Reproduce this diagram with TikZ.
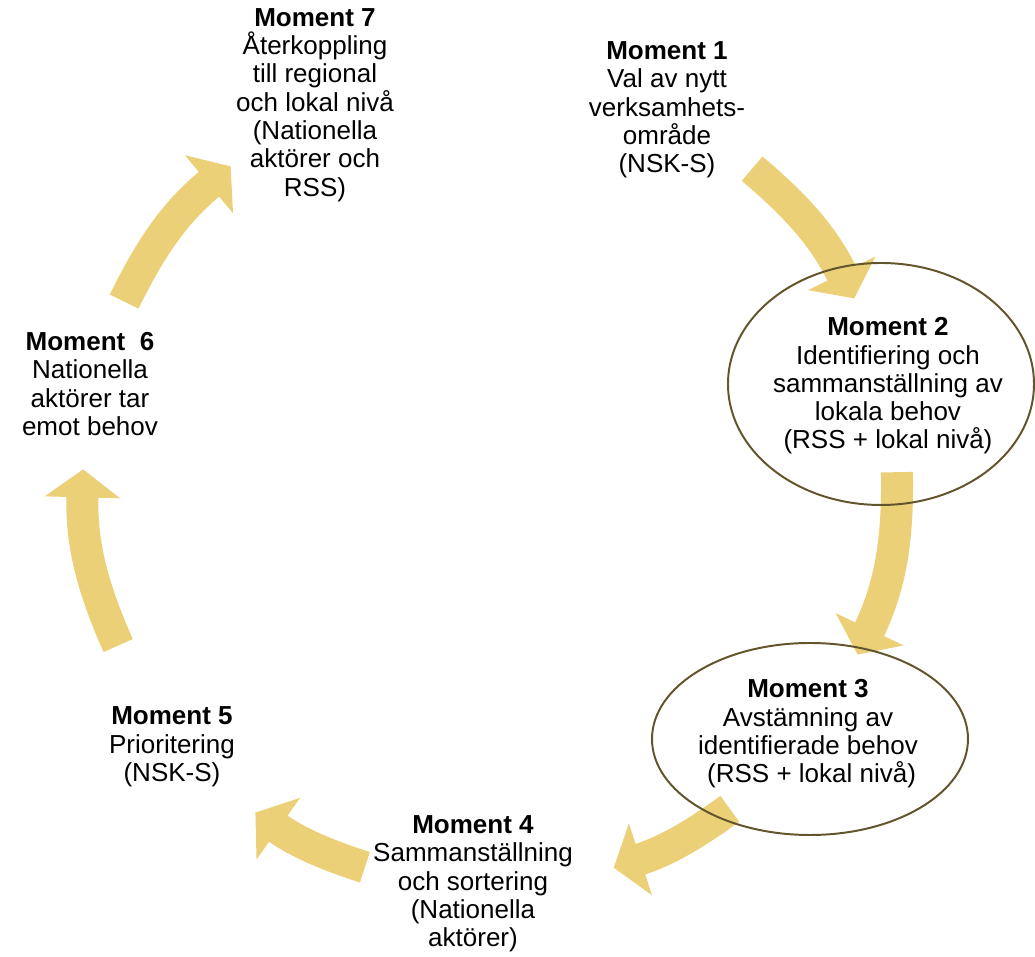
\documentclass[tikz,border=0pt]{standalone}
\usepackage{fontspec}
\setmainfont{Liberation Sans}
\usepackage{tikz}
\usetikzlibrary{arrows.meta}

\definecolor{flowgold}{RGB}{235,208,120}
\definecolor{ringbrown}{RGB}{98,84,45}

\tikzset{
	moment/.style={align=center, inner sep=0pt, font=\fontsize{18.5}{20.1}\selectfont},
	flow/.style={line width=0.8cm, color=flowgold, -{Triangle[length=0.7cm,width=1.85cm]}},
	ring/.style={draw=ringbrown, line width=1.4pt}
}

\begin{document}
\begin{tikzpicture}[x=0.025cm,y=0.025cm]

	\useasboundingbox (-490,-477) rectangle (545,480);

	% curved arrows round the cycle

	\foreach \i/\a/\b in {1/49.9/26.5, 2/1.1/-25.4, 3/-53.9/-72.3, 4/-107.9/-125.2, 5/-156/-181.5, 6/154/129.6}{
		\coordinate (s\i) at (\a:407);
		\coordinate (e\i) at (\b:407);
		\pgfmathsetmacro{\bnd}{(\a-\b)/2}
		\draw[flow] (s\i) to[bend left=\bnd] (e\i);
	}

	% rings round moment 2 and 3

	\draw[ring] (391,96) ellipse [x radius=153, y radius=121];
	\draw[ring] (320,-259) ellipse [x radius=158, y radius=96];

	% moments

	\node[moment] (m1) at (177,370) {\textbf{Moment 1}\\Val av nytt\\verksamhets-\\område\\(NSK-S)};
	\node[moment] (m2) at (398,94) {\textbf{Moment 2}\\Identifiering och\\sammanställning av\\lokala behov\\(RSS + lokal nivå)};
	\node[moment] (m3) at (318,-254) {\textbf{Moment 3}\\Avstämning av\\identifierade behov\\\ (RSS + lokal nivå)};
	\node[moment] (m4) at (-17,-404) {\textbf{Moment 4}\\Sammanställning\\och sortering\\(Nationella\\aktörer)};
	\node[moment] (m5) at (-318,-267) {\textbf{Moment 5}\\Prioritering\\(NSK-S)};
	\node[moment] (m6) at (-400,96) {\textbf{Moment\ \ 6}\\Nationella\\aktörer tar\\emot behov};
	\node[moment] (m7) at (-175,375) {\textbf{Moment 7}\\Återkoppling\\till regional\\och lokal nivå\\(Nationella\\aktörer och\\RSS)};

\end{tikzpicture}
\end{document}
